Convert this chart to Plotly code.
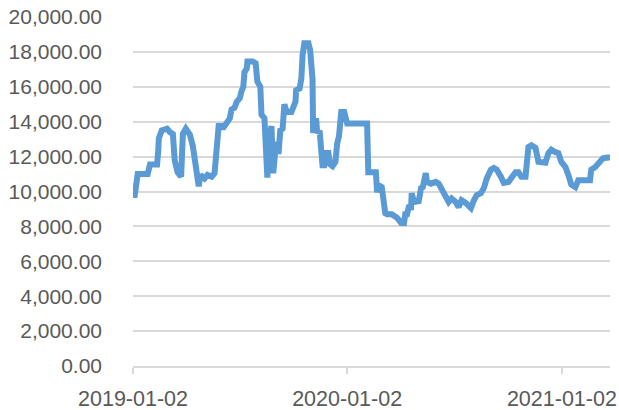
import pandas as pd
import plotly.graph_objects as go

# Series start date and day offsets of each observation
start_date = "2019-01-02"
day_offsets = [
    0, 3, 8, 25, 29, 41, 43, 44, 49, 58, 63, 68, 71, 76, 82, 85, 90, 97, 102, 107,
    112, 115, 122, 127, 134, 139, 143, 146, 151, 153, 160, 165, 168, 173, 177, 182,
    185, 188, 190, 194, 195, 204, 209, 212, 217, 219, 224, 226, 229, 231, 236, 239,
    244, 248, 251, 255, 258, 262, 270, 277, 278, 284, 287, 289, 290, 292, 299, 302,
    306, 307, 312, 314, 318, 321, 323, 326, 329, 333, 336, 340, 345, 348, 351, 355,
    360, 365, 399, 401, 414, 416, 419, 424, 430, 433, 441, 450, 457, 462, 464, 467,
    470, 474, 475, 479, 487, 491, 494, 499, 501, 508, 516, 521, 526, 533, 538, 543,
    550, 555, 560, 567, 576, 581, 586, 593, 598, 603, 610, 615, 620, 627, 632, 640,
    645, 652, 657, 662, 669, 671, 674, 679, 686, 691, 696, 703, 708, 713, 720, 725,
    730, 737, 742, 747, 754, 759, 779, 781, 788, 796, 801, 810, 813,
]
values = [
    9800, 9800, 11000, 11000, 11550, 11550, 12300, 13050, 13500, 13600, 13400, 13300, 11800, 11100, 10850, 13300, 13600, 13250, 12600, 11100,
    10300, 10950, 10750, 10950, 10850, 11050, 12300, 13750, 13750, 13600, 13950, 14200, 14700, 14800, 15150, 15350,
    15750, 16000, 16850, 17050, 17450, 17450, 17350, 16300, 16000, 14400, 14200, 12000, 10800, 12850, 13750, 11050,
    12850, 12150, 13500, 13600, 15000, 14550, 14550, 15150, 15800, 15900, 16500, 17800, 18100, 18500, 18500, 18100,
    16400, 13350, 14200, 13350, 13500, 12400, 11500, 11500, 12200, 12200, 11550, 11450, 11700, 12750, 13150, 14550,
    14550, 13900, 13900, 11100, 11100, 9950, 10350, 10250, 8750, 8700, 8700, 8500, 8200, 8200, 8700, 8700,
    9100, 9100, 9900, 9400, 9450, 10200, 10250, 11050, 10550, 10450, 10550, 10450, 10100, 9650, 9400, 9600,
    9400, 9100, 9500, 9350, 9050, 9500, 9800, 9900, 10200, 10750, 11250, 11350, 11250, 10850, 10500, 10550,
    10850, 11100, 11100, 10850, 10850, 11500, 12550, 12650, 12500, 11700, 11650, 11650, 12200, 12400, 12250, 12200,
    11700, 11400, 10950, 10400, 10250, 10650, 10650, 11250, 11400, 11650, 11900, 11950, 11950,
]

x_tick_labels = ["2019-01-02", "2020-01-02", "2021-01-02"]
y_tick_values = list(range(0, 20001, 2000))

dates = pd.Timestamp(start_date) + pd.to_timedelta(day_offsets, unit="D")

font_family = "Liberation Sans, Arial, sans-serif"
text_grey = "#595959"
grid_grey = "#D9D9D9"

fig = go.Figure(
    go.Scatter(
        x=dates,
        y=values,
        mode="lines",
        line=dict(color="#5B9BD5", width=6, shape="linear"),
        hoverinfo="x+y",
    )
)

fig.update_layout(
    width=619,
    height=410,
    margin=dict(l=133, r=9, t=17, b=44, autoexpand=False),
    paper_bgcolor="white",
    plot_bgcolor="white",
    showlegend=False,
    font=dict(family=font_family, size=21, color=text_grey),
)

fig.update_xaxes(
    range=[dates[0], dates[-1]],
    tickmode="array",
    tickvals=pd.to_datetime(x_tick_labels),
    ticktext=x_tick_labels,
    showgrid=False,
    showline=True,
    linecolor=grid_grey,
    linewidth=1.5,
    ticks="outside",
    ticklen=6,
    tickwidth=1.5,
    tickcolor=grid_grey,
    ticklabelstandoff=6,
    tickfont=dict(size=21.5, color=text_grey),
    zeroline=False,
)

fig.update_yaxes(
    range=[0, 20000],
    tickmode="array",
    tickvals=y_tick_values,
    ticktext=[f"{v:,.2f}" for v in y_tick_values],
    showgrid=True,
    gridcolor=grid_grey,
    gridwidth=1.5,
    showline=False,
    zeroline=False,
    ticks="",
    ticklabelstandoff=30,
    tickfont=dict(size=21, color=text_grey),
)

fig.write_html("out.html")
